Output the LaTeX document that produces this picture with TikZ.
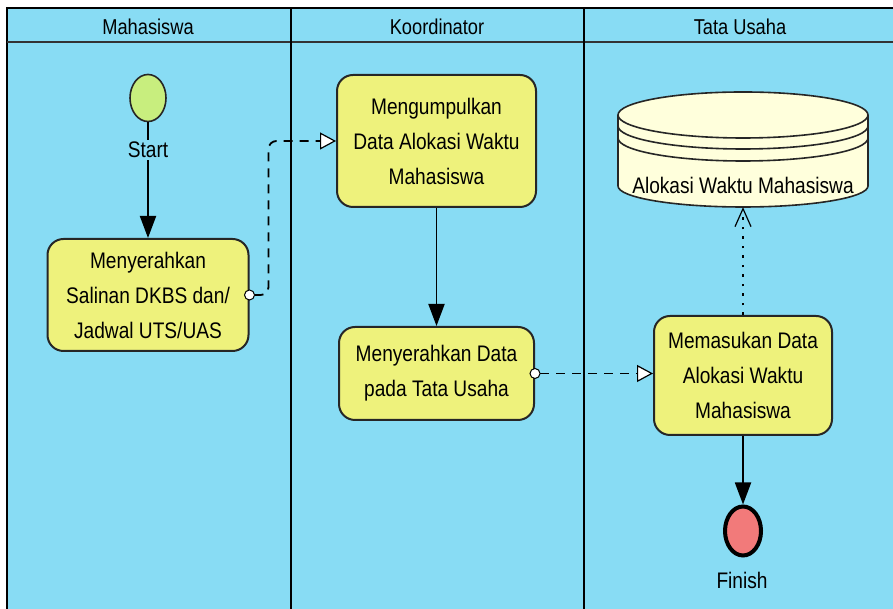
\documentclass[tikz,border=0pt]{standalone}
\usepackage{fontspec}
\setmainfont{Liberation Sans}[FakeStretch=0.85]
\usetikzlibrary{arrows.meta, shapes.geometric}
\definecolor{lane}{HTML}{88DCF4}
\definecolor{taskfill}{HTML}{EEF27C}
\definecolor{startfill}{HTML}{C8EE7E}
\definecolor{finishfill}{HTML}{F27A7A}
\definecolor{storefill}{HTML}{FFFFDC}

\tikzset{
  task/.style={draw=black!85, line width=2pt, fill=taskfill, rounded corners=16pt,
    align=center, inner sep=0pt, font=\fontsize{22.5}{35}\selectfont},
  lbl/.style={inner sep=2pt, font=\fontsize{22.5}{26}\selectfont},
  hdr/.style={inner sep=0pt, font=\fontsize{21.5}{24}\selectfont},
  startev/.style={ellipse, draw=black!85, line width=1.6pt, fill=startfill,
    minimum width=36pt, minimum height=47pt},
  endev/.style={ellipse, draw=black, line width=4pt, fill=finishfill,
    minimum width=36pt, minimum height=49pt},
  seqflow/.style={line width=1.9pt, -{Triangle[length=22pt, width=16pt]}},
  msgflow/.style={line width=1.8pt, dash pattern=on 9pt off 7pt,
    {Circle[length=11pt, width=11pt, fill=white, line width=1pt]}-{Triangle[length=16pt, width=17pt, fill=white, line width=1.2pt]},
    shorten <=-5.5pt},
  assoc/.style={line width=1.6pt, dash pattern=on 2.5pt off 7pt,
    -{Straight Barb[length=18pt, width=16pt, line width=1.2pt]}},
  store/.style={draw=black!85, line width=1.6pt, fill=storefill}
}

\begin{document}
\begin{tikzpicture}[x=1pt, y=1pt]
  \useasboundingbox (0,0) rectangle (893,609);
  \clip (0,0) rectangle (893,609);
  % Pool and lanes
  \draw[fill=lane, line width=2.5pt] (7,-10) rectangle (905,601);
  \draw[line width=2.8pt, draw=black!80] (7,567) -- (893,567);
  \draw[line width=1.4pt] (291,601) -- (291,-10);
  \draw[line width=1.4pt] (584,601) -- (584,-10);
  \node[hdr] (hmhs) at (148,582) {Mahasiswa};
  \node[hdr] (hkoor) at (437,582) {Koordinator};
  \node[hdr] (htu) at (740,582) {Tata Usaha};
  % Events and tasks
  \node[startev] (start) at (148,511) {};
  \node[task, minimum width=201pt, minimum height=112pt] (kirim) at (148,314)
    {Menyerahkan\\Salinan DKBS dan/\\Jadwal UTS/UAS};
  \node[task, minimum width=199pt, minimum height=132pt] (kumpul) at (436.5,468)
    {Mengumpulkan\\Data Alokasi Waktu\\Mahasiswa};
  \node[task, minimum width=195pt, minimum height=93pt] (serah) at (436.5,235.5)
    {Menyerahkan Data\\pada Tata Usaha};
  \node[task, minimum width=178pt, minimum height=119pt] (masuk) at (743,233.5)
    {Memasukan Data\\Alokasi Waktu\\Mahasiswa};
  \node[endev] (finish) at (743,78) {};
  \node[lbl] (finlbl) at (742,29) {Finish};
  % Data store (cylinder with two rings)
  \node[inner sep=0pt, minimum width=250pt, minimum height=114pt] (db) at (743,459) {};
  \filldraw[store] (618,494) -- (618,423)
    arc[start angle=180, end angle=360, x radius=125, y radius=21] -- (868,494)
    arc[start angle=0, end angle=180, x radius=125, y radius=23] -- cycle;
  \foreach \dy in {0,11,23}
    \draw[store, fill=none] (618,494-\dy) arc[start angle=180, end angle=360, x radius=125, y radius=23];
  \node[lbl] (dblbl) at (743,424) {Alokasi Waktu Mahasiswa};
  % Flows
  \draw[seqflow] (start) -- (kirim);
  \node[lbl, fill=lane] (startlbl) at (148,459) {Start};
  \draw[seqflow] (kumpul) -- (serah);
  \draw[seqflow] (masuk) -- (finish);
  \draw[msgflow, rounded corners=8pt] (kirim.east) -- ++(19,0) |- (kumpul.west);
  \draw[msgflow] (serah.east) -- (serah.east -| masuk.west);
  \draw[assoc] (masuk.north) -- (db.south);
\end{tikzpicture}
\end{document}
